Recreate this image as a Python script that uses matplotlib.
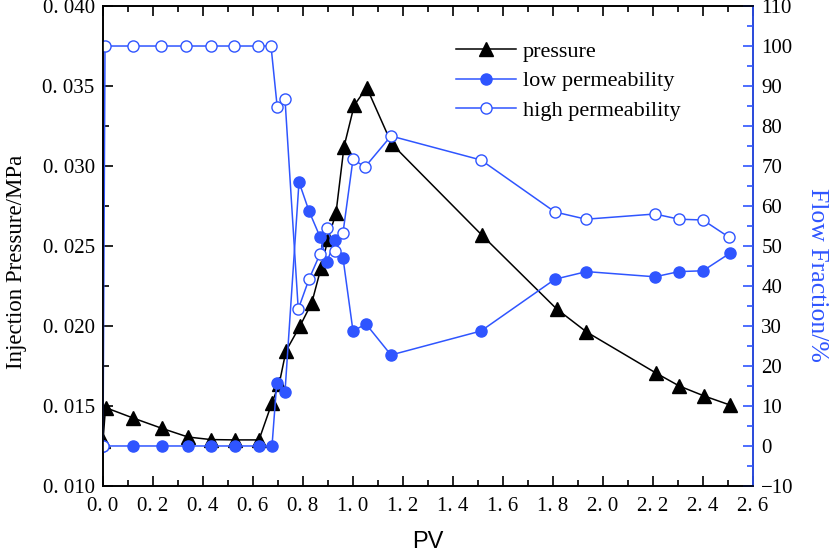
import numpy as np
import matplotlib.pyplot as plt
from matplotlib.ticker import MultipleLocator, FuncFormatter

# pressure curve (left axis)
pv_p = [0.0, 0.01, 0.12, 0.236, 0.34, 0.432, 0.528, 0.624, 0.676, 0.705, 0.732,
        0.788, 0.835, 0.872, 0.90, 0.932, 0.964, 1.005, 1.055, 1.155, 1.515,
        1.815, 1.934, 2.212, 2.305, 2.404, 2.508]
pressure = [0.0128, 0.0149, 0.01425, 0.0136, 0.01306, 0.0129, 0.01288, 0.01288,
            0.0152, 0.0164, 0.01844, 0.0200, 0.02144, 0.02363, 0.02544, 0.02706,
            0.0312, 0.0338, 0.0349, 0.03138, 0.02569, 0.02106, 0.01963, 0.01706,
            0.01625, 0.01563, 0.01506]

# flow fractions (right axis)
pv_low = [0.0, 0.12, 0.236, 0.34, 0.432, 0.528, 0.624, 0.676, 0.695, 0.728,
          0.784, 0.824, 0.868, 0.896, 0.928, 0.96, 1.0, 1.052, 1.152, 1.512,
          1.808, 1.934, 2.208, 2.304, 2.40, 2.508]
low_perm = [0, 0, 0, 0, 0, 0, 0, 0, 15.75, 13.5, 66, 58.75, 52.3, 46, 51.5, 47,
            28.75, 30.5, 22.75, 28.75, 41.7, 43.6, 42.3, 43.6, 43.8, 48.2]

pv_high = [0.0, 0.008, 0.119, 0.231, 0.332, 0.431, 0.525, 0.621, 0.672, 0.697,
           0.728, 0.781, 0.824, 0.868, 0.896, 0.928, 0.96, 1.0, 1.048, 1.152,
           1.512, 1.808, 1.932, 2.208, 2.304, 2.40, 2.504]
high_perm = [0, 100, 100, 100, 100, 100, 100, 100, 100, 84.7, 86.75, 34.2, 41.7,
             48, 54.5, 48.7, 53.3, 71.7, 69.75, 77.5, 71.5, 58.5, 56.7, 58, 56.7,
             56.5, 52.2]

BLUE = "#2f55ff"
SERIF = "Liberation Serif"

plt.rcParams["font.family"] = SERIF

fig = plt.figure(figsize=(8.3, 5.52), dpi=100)
ax = fig.add_axes([0.1241, 0.1196, 0.7831, 0.8695])
ax2 = ax.twinx()

l1, = ax.plot(pv_p, pressure, "-", color="black", lw=1.1, marker="^", ms=10,
              mfc="black", mec="black", label="pressure")
l2, = ax2.plot(pv_low, low_perm, "-", color=BLUE, lw=1.1, marker="o", ms=8,
               mfc=BLUE, mec=BLUE, label="low permeability")
l3, = ax2.plot(pv_high, high_perm, "-", color=BLUE, lw=1.1, marker="o", ms=8,
               mfc="white", mec=BLUE, mew=1.0, label="high permeability")

ax.set_xlim(0, 2.6)
ax.set_ylim(0.010, 0.040)
ax2.set_ylim(-10, 110)

ax.xaxis.set_major_locator(MultipleLocator(0.2))
ax.xaxis.set_minor_locator(MultipleLocator(0.1))
ax.yaxis.set_major_locator(MultipleLocator(0.005))
ax.yaxis.set_minor_locator(MultipleLocator(0.0025))
ax2.yaxis.set_major_locator(MultipleLocator(10))
ax2.yaxis.set_minor_locator(MultipleLocator(5))

ax.xaxis.set_major_formatter(FuncFormatter(lambda v, p: f"{v:.1f}".replace(".", ". ")))
ax.yaxis.set_major_formatter(FuncFormatter(lambda v, p: f"{v:.3f}".replace(".", ". ")))
ax2.yaxis.set_major_formatter(FuncFormatter(lambda v, p: f"{v:.0f}".replace("-", "\u2212")))

ax.tick_params(axis="x", which="both", direction="in", top=True, labelsize=15, pad=8)
ax.tick_params(axis="y", which="both", direction="in", right=False, labelsize=15, pad=6)
ax.tick_params(which="major", length=7, width=1.2)
ax.tick_params(which="minor", length=4, width=1.2)
ax2.tick_params(axis="y", which="both", direction="in", colors=BLUE, labelcolor="black",
                labelsize=15, pad=6)
ax2.tick_params(which="major", length=7, width=1.2)
ax2.tick_params(which="minor", length=4, width=1.2)

for s in ax.spines.values():
    s.set_linewidth(1.2)
for s in ax2.spines.values():
    s.set_linewidth(1.2)
ax2.spines["right"].set_color(BLUE)

ax.set_xlabel("PV", family="Liberation Sans", fontsize=17, labelpad=11)
ax.set_ylabel("Injection Pressure/MPa", fontsize=16.5)
ax.yaxis.set_label_coords(-0.117, 0.467)
ax2.set_ylabel("Flow Fraction/%", fontsize=18.5, color=BLUE, rotation=270, va="bottom")
ax2.yaxis.set_label_coords(1.0815, 0.44)

ax2.legend(handles=[l1, l2, l3], loc="upper left", bbox_to_anchor=(0.53, 0.945),
           frameon=False, fontsize=16, handlelength=2.7, handletextpad=0.3,
           labelspacing=0.4, borderaxespad=0.0)

fig.savefig("out.png", dpi=100)
